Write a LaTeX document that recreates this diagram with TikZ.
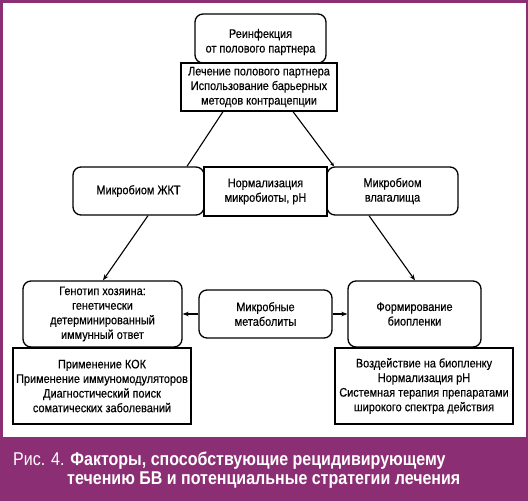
\documentclass[tikz,border=0pt]{standalone}
\usepackage{fontspec}
\setmainfont[FakeStretch=0.88,FakeBold=0.35]{Liberation Sans}
\newfontfamily\capfont[FakeStretch=0.865]{Liberation Sans}
\usetikzlibrary{arrows.meta,calc}
\definecolor{capviolet}{RGB}{140,46,116}
\begin{document}
\begin{tikzpicture}[x=1pt,y=-1pt,
  base/.style={draw=black,line width=1.3pt,fill=white,align=center,inner sep=0pt,
    font=\fontsize{12.4}{14.6}\selectfont},
  rbox/.style={base,rounded corners=8pt},
  sbox/.style={base},
  conn/.style={line width=1.1pt},
  arr/.style={conn,-{Stealth[length=6pt,width=4.5pt]}}]
\useasboundingbox (0,0) rectangle (528,501);
\fill[capviolet] (0,0) rectangle (528,501);
\fill[white] (2.5,2.5) rectangle (525.5,437);

% top
\node[rbox,minimum width=131pt,minimum height=49pt] (rein) at (260.5,38.5)
  {\rule{0pt}{16pt}Реинфекция\\от полового партнера};
\node[sbox,minimum width=156pt,minimum height=48pt] (treat) at (259,87)
  {Лечение полового партнера\\Использование барьерных\\методов контрацепции};

% middle row
\node[rbox,minimum width=131pt,minimum height=48pt] (gut) at (138.5,191)
  {Микробиом ЖКТ};
\node[rbox,minimum width=131pt,minimum height=48pt] (vag) at (392.5,191)
  {Микробиом\\влагалища};
\node[sbox,minimum width=123pt,minimum height=49pt] (norm) at (265.5,191.5)
  {Нормализация\\микробиоты, рН};

% bottom row
\node[rbox,minimum width=159pt,minimum height=66pt] (gen) at (102.5,314)
  {Генотип хозяина:\\генетически\\детерминированный\\иммунный ответ};
\node[rbox,minimum width=133pt,minimum height=48pt] (met) at (265.5,314)
  {Микробные\\метаболиты};
\node[rbox,minimum width=133pt,minimum height=66pt] (bio) at (414.5,314)
  {Формирование\\биопленки};

\node[sbox,minimum width=178pt,minimum height=76pt] (kok) at (102,386)
  {Применение КОК\\Применение иммуномодуляторов\\Диагностический поиск\\соматических заболеваний};
\node[sbox,minimum width=178pt,minimum height=76pt] (act) at (424,386)
  {Воздействие на биопленку\\Нормализация рН\\Системная терапия препаратами\\широкого спектра действия};

% connectors
\draw[conn] ($(treat.south)+(-36,0)$) -- ($(gut.north)+(48.5,0)$);
\draw[-{Stealth[length=4pt,width=3.5pt]},line width=1.1pt] ($(treat.south)+(34,0)$) -- ($(vag.north)+(-58.5,0)$);
\draw[arr] ($(gut.south)+(9.5,0)$) -- ($(gen.north)+(0.5,0)$);
\draw[arr] ($(vag.south)+(-23.5,0)$) -- ($(bio.north)+(0.5,0)$);
\draw[arr] (met.west) -- (gen.east);
\draw[arr] (met.east) -- (bio.west);

% caption
\node[anchor=base west,inner sep=0pt,text=white,font=\capfont\fontsize{18.5}{19}\selectfont] (cap1) at (13,465)
  {Рис. 4. \textbf{Факторы, способствующие рецидивирующему}};
\node[anchor=base west,inner sep=0pt,text=white,font=\capfont\fontsize{18.5}{19}\selectfont] (cap2) at (67,484)
  {\textbf{течению БВ и потенциальные стратегии лечения}};
\end{tikzpicture}
\end{document}
